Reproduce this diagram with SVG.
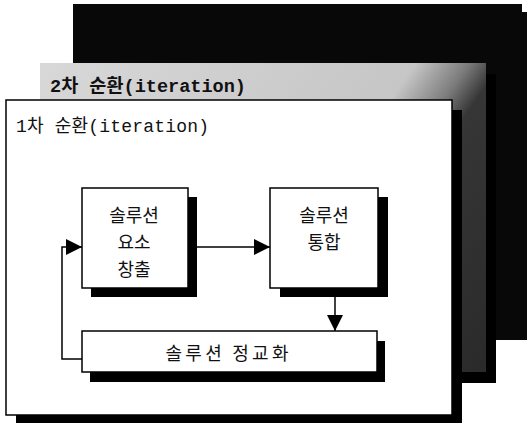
<svg xmlns="http://www.w3.org/2000/svg" width="527" height="423" viewBox="0 0 527 423">
  <defs>
    <linearGradient id="grayFill" gradientUnits="userSpaceOnUse" x1="40" y1="63" x2="486" y2="372">
      <stop offset="0" stop-color="#d8d8d8"/>
      <stop offset="0.57" stop-color="#c6c6c6"/>
      <stop offset="0.65" stop-color="#7c7c7c"/>
      <stop offset="0.70" stop-color="#363636"/>
      <stop offset="1" stop-color="#2a2a2a"/>
    </linearGradient>
    <marker id="arrow" markerUnits="userSpaceOnUse" markerWidth="18" markerHeight="18" refX="16" refY="8" orient="auto">
      <path d="M0,0 L16,8 L0,16 Z" fill="#000"/>
    </marker>
  </defs>
  <style>
    .shadow { fill: #000; }
    .box { fill: #fff; stroke: #000; stroke-width: 1.5; }
    .conn { fill: none; stroke: #000; stroke-width: 1.5; }
    .lbl { font-family: "Noto Sans CJK KR", "Liberation Sans", sans-serif; font-size: 18px; fill: #111; text-anchor: middle; dominant-baseline: central; }
    .title { font-family: "Liberation Mono", "Noto Sans CJK KR", monospace; font-size: 18px; fill: #111; dominant-baseline: central; }
  </style>
  <rect width="527" height="423" fill="#fff"/>

  <g id="panel-back">
    <rect x="73" y="4" width="449" height="330" fill="#080808"/>
    <rect x="81" y="12" width="449" height="328" fill="#080808"/>
  </g>

  <g id="panel-iter2">
    <rect x="50" y="74" width="446" height="309" class="shadow"/>
    <rect x="40" y="63" width="446" height="309" fill="url(#grayFill)"/>
    <text class="title" x="50" y="87" font-weight="bold" textLength="196" lengthAdjust="spacingAndGlyphs">2차 순환(iteration)</text>
  </g>

  <g id="panel-iter1">
    <rect x="16" y="110" width="446" height="313" class="shadow"/>
    <rect x="6" y="100" width="446" height="315" class="box"/>
    <text class="title" x="16" y="127" textLength="193" lengthAdjust="spacing">1차 순환(iteration)</text>
  </g>

  <g id="connectors">
    <line class="conn" x1="197" y1="247" x2="270" y2="247" marker-end="url(#arrow)"/>
    <line class="conn" x1="335" y1="297" x2="335" y2="331" marker-end="url(#arrow)"/>
    <polyline class="conn" points="82,359 62,359 62,247 82,247" marker-end="url(#arrow)"/>
  </g>

  <g id="node-generate">
    <rect x="91" y="197" width="106" height="100" class="shadow"/>
    <rect x="82" y="188" width="106" height="100" class="box"/>
    <text class="lbl" x="134" y="214">솔루션</text>
    <text class="lbl" x="134" y="241">요소</text>
    <text class="lbl" x="134" y="268">창출</text>
  </g>

  <g id="node-integrate">
    <rect x="280" y="197" width="108" height="100" class="shadow"/>
    <rect x="270" y="188" width="108" height="100" class="box"/>
    <text class="lbl" x="324" y="214">솔루션</text>
    <text class="lbl" x="324" y="241">통합</text>
  </g>

  <g id="node-refine">
    <rect x="90" y="341" width="295" height="41" class="shadow"/>
    <rect x="82" y="331" width="295" height="41" class="box"/>
    <text class="lbl" x="227" y="352" textLength="123" lengthAdjust="spacing">솔루션 정교화</text>
  </g>
</svg>
